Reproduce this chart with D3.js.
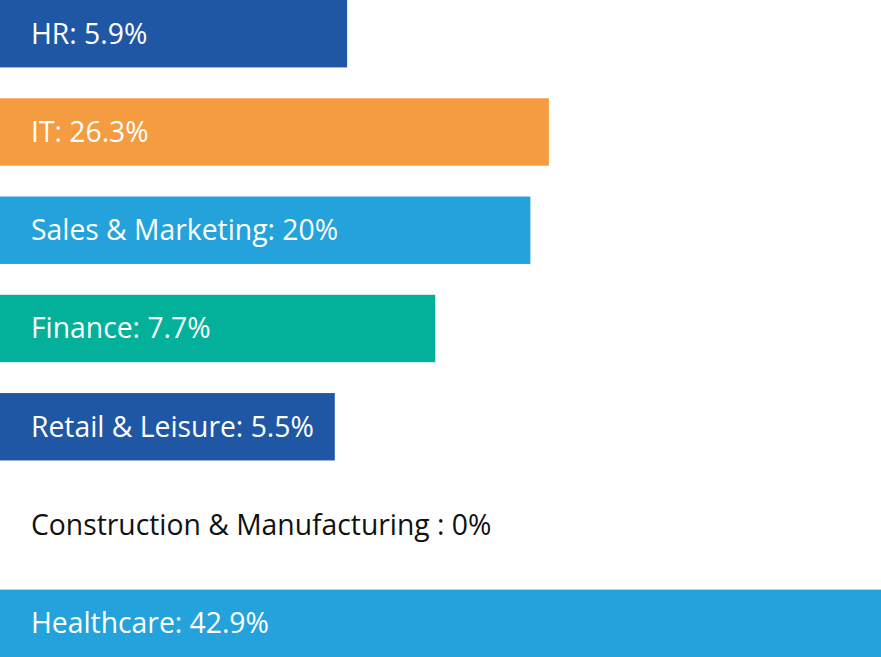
<!DOCTYPE html>
<html>
<head>
<meta charset="utf-8">
<script src="https://cdn.jsdelivr.net/npm/d3@7"></script>
<style>
  html, body { margin: 0; padding: 0; background: #ffffff; }
  svg { display: block; }
</style>
</head>
<body>
<div id="chart"></div>
<script>
// Sectors, shares shown in the labels, and bar lengths (percent of longest bar)
const sectors = ["HR", "IT", "Sales & Marketing", "Finance", "Retail & Leisure", "Construction & Manufacturing ", "Healthcare"];
const shares = ["5.9%", "26.3%", "20%", "7.7%", "5.5%", "0%", "42.9%"];
const barLength = [39.4, 62.3, 60.2, 49.4, 38.0, 0, 100];
const barColors = ["#1f57a5", "#f59b40", "#23a2dc", "#03b09a", "#1f57a5", "#ffffff", "#23a2dc"];

const width = 881;
const height = 657;

const data = sectors.map((s, i) => ({
  sector: s,
  share: shares[i],
  len: barLength[i],
  color: barColors[i]
}));

const svg = d3.select("#chart")
  .append("svg")
  .attr("width", width)
  .attr("height", height);

// vertical positions for each sector
const yScale = d3.scaleBand()
  .domain(sectors)
  .range([0, height])
  .paddingInner(0.314)
  .paddingOuter(0);

// bar length
const xScale = d3.scaleLinear()
  .domain([0, 100])
  .range([0, width]);

// Draw bars
svg.selectAll(".bar")
  .data(data.filter(d => d.len > 0))
  .enter()
  .append("rect")
  .attr("class", "bar")
  .attr("x", 0)
  .attr("y", d => yScale(d.sector))
  .attr("width", d => xScale(d.len))
  .attr("height", yScale.bandwidth())
  .attr("fill", d => d.color);

// Labels inside bars (dark when there is no bar)
svg.selectAll(".label")
  .data(data)
  .enter()
  .append("text")
  .attr("class", "label")
  .attr("x", 31)
  .attr("y", d => yScale(d.sector) + yScale.bandwidth() / 2)
  .attr("dy", "0.35em")
  .style("font-family", "'Open Sans', sans-serif")
  .style("font-size", "28.3px")
  .attr("fill", d => d.len > 0 ? "#ffffff" : "#111111")
  .text(d => `${d.sector}: ${d.share}`);
</script>
</body>
</html>
